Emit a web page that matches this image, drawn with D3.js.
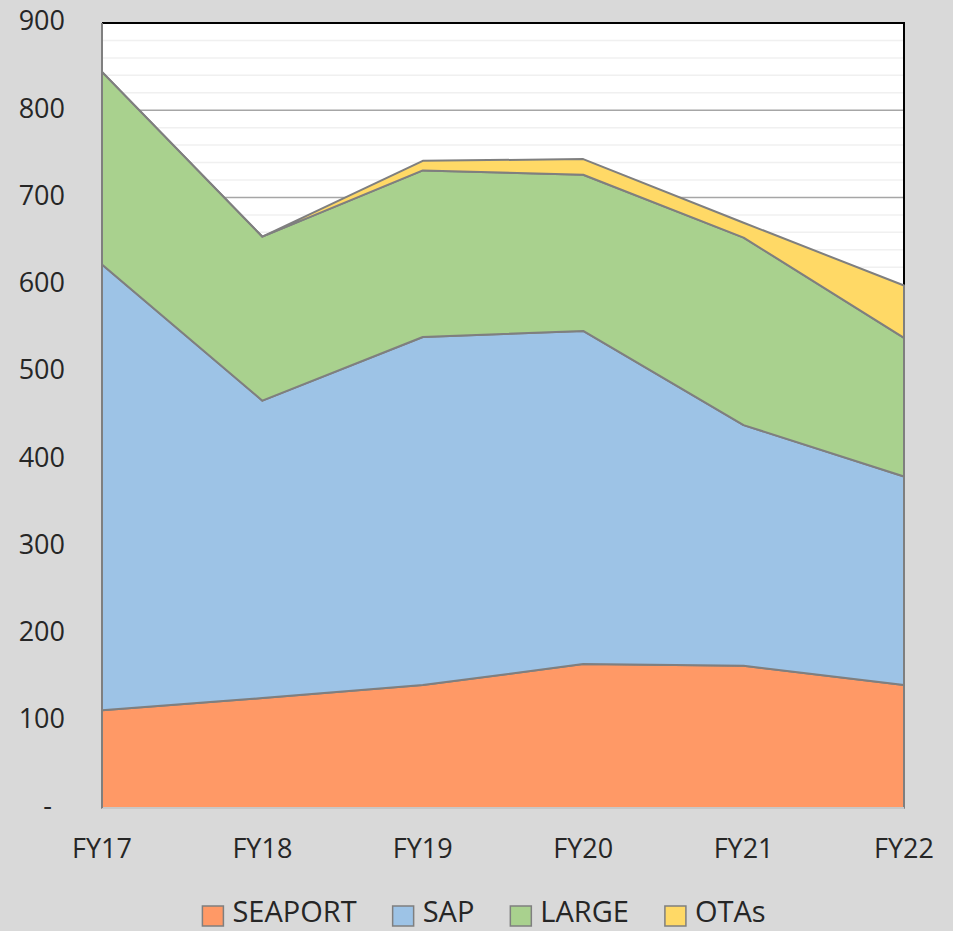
<!DOCTYPE html>
<html lang="en">
<head>
  <meta charset="UTF-8">
  <title>Area chart</title>
  <style>
    html, body {
      margin: 0;
      overflow: hidden;
      width: 100%;
      height: 100%;
      background: #d9d9d9;
    }
    svg {
      position: absolute;
      top: 0;
      left: 0;
    }
    text {
      font-family: "Open Sans", sans-serif;
      fill: #262626;
    }
  </style>
</head>
<body>
  <svg width="953" height="931"></svg>
</body>
<script src="https://d3js.org/d3.v7.min.js"></script>
<script type="text/javascript">
  const years = ['FY17', 'FY18', 'FY19', 'FY20', 'FY21', 'FY22']
  const seriesNames = ['SEAPORT', 'SAP', 'LARGE', 'OTAs']
  const seaport = [112, 126, 141, 165, 163, 141]
  const sap = [511, 341, 399, 382, 276, 239]
  const large = [221, 188, 191, 179, 215, 159]
  const otas = [0, 0, 11, 18, 17, 60]
  const yTicks = [0, 100, 200, 300, 400, 500, 600, 700, 800, 900]
  const colors = ['#ff9966', '#9dc3e6', '#a9d18e', '#ffd966']

  const svg = d3.select('svg')
  const pLeft = 102, pRight = 904, pTop = 23, pBottom = 808

  const rows = years.map((yr, i) => ({
    year: yr, SEAPORT: seaport[i], SAP: sap[i], LARGE: large[i], OTAs: otas[i]
  }))
  const stacked = d3.stack().keys(seriesNames)(rows)

  const x = d3.scalePoint().domain(years).range([pLeft, pRight])
  const y = d3.scaleLinear().domain([0, 900]).range([pBottom, pTop])

  // plot area
  svg.append('rect')
    .attr('x', pLeft).attr('y', pTop)
    .attr('width', pRight - pLeft).attr('height', pBottom - pTop)
    .attr('fill', '#fff')

  // minor grid
  svg.append('g')
    .selectAll('line')
    .data(d3.range(20, 900, 20).filter(v => v % 100 !== 0))
    .enter().append('line')
      .attr('x1', pLeft).attr('x2', pRight)
      .attr('y1', d => y(d)).attr('y2', d => y(d))
      .attr('stroke', '#f0f0f0')
      .attr('stroke-width', 1.5)

  // major grid
  svg.append('g')
    .selectAll('line')
    .data(yTicks.slice(1, -1))
    .enter().append('line')
      .attr('x1', pLeft).attr('x2', pRight)
      .attr('y1', d => y(d)).attr('y2', d => y(d))
      .attr('stroke', '#a6a6a6')
      .attr('stroke-width', 1.5)

  // top / right border
  svg.append('path')
    .attr('d', `M${pLeft},${pTop}H${pRight}V${pBottom}`)
    .attr('fill', 'none')
    .attr('stroke', '#000')
    .attr('stroke-width', 2)

  // areas
  const area = d3.area()
    .x(d => x(d.data.year))
    .y0(d => y(d[0]))
    .y1(d => y(d[1]))

  svg.append('g')
    .selectAll('path')
    .data(stacked)
    .enter().append('path')
      .attr('d', area)
      .attr('fill', (d, i) => colors[i])
      .attr('stroke', '#7f7f7f')
      .attr('stroke-width', 2)
      .attr('stroke-linejoin', 'round')

  // axis lines
  svg.append('line')
    .attr('x1', pLeft).attr('x2', pRight)
    .attr('y1', pBottom).attr('y2', pBottom)
    .attr('stroke', '#c8c8c8')
    .attr('stroke-width', 2)
  svg.append('line')
    .attr('x1', pLeft).attr('x2', pLeft)
    .attr('y1', pTop).attr('y2', pBottom)
    .attr('stroke', '#7f7f7f')
    .attr('stroke-width', 2)

  // y labels
  svg.append('g')
    .selectAll('text')
    .data(yTicks)
    .enter().append('text')
      .attr('x', d => d === 0 ? 52 : 65)
      .attr('y', d => y(d) - 2)
      .attr('dy', '0.35em')
      .attr('text-anchor', 'end')
      .style('font-size', '27px')
      .text(d => d === 0 ? '-' : d)

  // x labels
  svg.append('g')
    .selectAll('text')
    .data(years)
    .enter().append('text')
      .attr('x', d => x(d))
      .attr('y', 849)
      .attr('dy', '0.35em')
      .attr('text-anchor', 'middle')
      .style('font-size', '27px')
      .text(d => d)

  // legend
  const legend = svg.append('g')
  const items = legend.selectAll('g')
    .data(seriesNames)
    .enter().append('g')
  items.append('rect')
    .attr('width', 21).attr('height', 20)
    .attr('y', 906)
    .attr('fill', (d, i) => colors[i])
    .attr('stroke', '#7f7f7f')
    .attr('stroke-width', 1.5)
  items.append('text')
    .attr('x', 30)
    .attr('y', 922)
    .style('font-size', '29px')
    .text(d => d)

  const widths = []
  items.select('text').each(function () { widths.push(this.getComputedTextLength()) })
  const gap = 36
  const total = d3.sum(widths) + widths.length * 30 + (widths.length - 1) * gap
  let cx = 484 - total / 2
  items.each(function (d, i) {
    d3.select(this).attr('transform', `translate(${cx},0)`)
    cx += 30 + widths[i] + gap
  })
</script>
</html>
